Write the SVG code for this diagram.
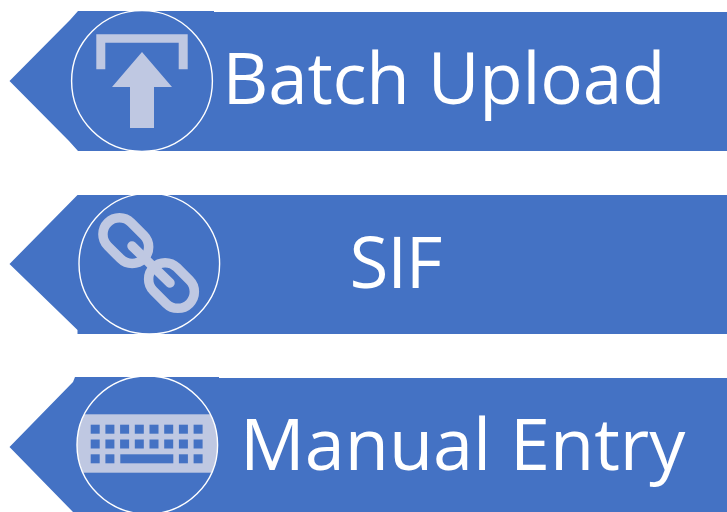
<svg xmlns="http://www.w3.org/2000/svg" width="727" height="512" viewBox="0 0 727 512">
<style>
.b{fill:#4472c4}
.c{fill:none;stroke:#fff;stroke-width:1.4}
.i{fill:#bfc8e2}
.l{fill:none;stroke:#bfc8e2;stroke-width:9.5;stroke-linecap:round}
.t{fill:#fff;font-family:"Open Sans",sans-serif;font-size:71px}
.k{fill:#4472c4}
</style>
<defs>
<g id="r"><rect class="k" x="0" y="0" width="9" height="9"/><rect class="k" x="14.7" y="0" width="9" height="9"/></g>
<clipPath id="kc"><ellipse cx="147.3" cy="445" rx="70.3" ry="69"/></clipPath>
</defs>
<rect width="727" height="512" fill="#fff"/>
<g id="batch">
<path class="b" d="M9.5 81L70 20L78 11H214V12H727V151H78L69 141Z"/>
<circle class="c" cx="142" cy="81" r="70.4"/>
<path class="i" d="M96.3 34.3H187.7V69.3H178.7V42.7H105.3V69.3H96.3Z"/>
<path class="i" d="M142 52L172 87H154V128H130V87H112Z"/>
<text class="t" x="222.5" y="104" textLength="443">Batch Upload</text>
</g>
<g id="sif">
<path class="b" d="M9.5 264L77.5 195H727V334H77.5V330Z"/>
<circle class="c" cx="149.3" cy="263.7" r="70.3"/>
<rect class="l" x="100.3" y="224.2" width="51" height="33" rx="16.5" transform="rotate(45 125.8 240.7)"/>
<rect class="l" x="146" y="269" width="51" height="33" rx="16.5" transform="rotate(45 171.5 285.5)"/>
<path class="l" d="M132 246L170 283"/>
<text class="t" x="349.5" y="288" textLength="93">SIF</text>
</g>
<g id="manual">
<path class="b" d="M9.5 447L73 382L75 377H219V378H727V512H73Z"/>
<rect class="i" x="70" y="414.3" width="150" height="58.4" clip-path="url(#kc)"/>
<ellipse class="c" cx="147.3" cy="445" rx="70.3" ry="69"/>
<g id="keys">
<use href="#r" x="90.7" y="424.7"/><use href="#r" x="120.1" y="424.7"/><use href="#r" x="149.5" y="424.7"/><use href="#r" x="178.9" y="424.7"/>
<use href="#r" x="90.7" y="439.5"/><use href="#r" x="120.1" y="439.5"/><use href="#r" x="149.5" y="439.5"/><use href="#r" x="178.9" y="439.5"/>
<use href="#r" x="90.7" y="454.3"/><use href="#r" x="178.9" y="454.3"/>
<rect class="k" x="120.3" y="454.3" width="53" height="9"/>
</g>
<text class="t" x="240" y="470" style="font-size:72px">Manual Entry</text>
</g>
<g id="connectors"/>
</svg>
